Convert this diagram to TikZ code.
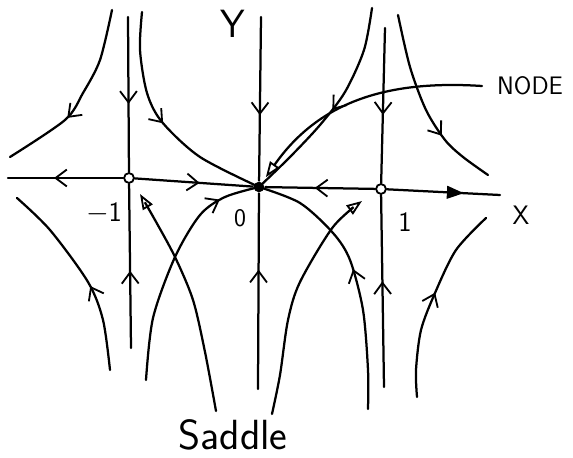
\documentclass[tikz,border=0pt]{standalone}
\usepackage{fontspec}
\usepackage{tikz}
\usetikzlibrary{arrows.meta,decorations.markings}

\begin{document}
\begin{tikzpicture}[x=0.025cm,y=-0.025cm,line width=1.6pt,line cap=round,
      font=\sffamily\fontsize{20}{22}\selectfont,
      fix/.style={circle,draw,minimum size=7pt,inner sep=0pt,line width=1.3pt},
      sink/.style={circle,fill,minimum size=7.5pt,inner sep=0pt},
      flow/.style={postaction={decorate},decoration={markings,
        mark=at position #1 with {\arrow{Straight Barb[length=8pt,width=12pt,line width=1.3pt]}}}},
      push/.style={postaction={decorate},decoration={markings,
        mark=at position #1 with {\arrow{Triangle[length=12pt,width=9pt]}}}},
      tip/.style={-{Triangle[open,length=11pt,width=8pt,line width=1.3pt]}}]
  \useasboundingbox (0,0) rectangle (573,458);
  \node[sink] (O) at (259,187) {};
  \node[fix] (sl) at (129,178) {};
  \node[fix] (sr) at (381,189) {};
  \coordinate (xl) at (8,178);
  \coordinate (xr) at (500,195);
  \node[font=\sffamily\fontsize{28}{30}\selectfont] (ylab) at (233,24) {Y};
  \node[font=\sffamily\fontsize{19}{21}\selectfont] (xlab) at (521,215) {X};
  \node (ml) at (104,213) {$-$1};
  \node[font=\sffamily\fontsize{18}{20}\selectfont] (zl) at (240,218) {0};
  \node (pl) at (405,222) {1};
  \node[anchor=west,inner xsep=10pt,font=\sffamily\fontsize{18}{20}\selectfont] (nd) at (482,86) {NODE};
  \node[font=\sffamily\fontsize{30}{32}\selectfont] (sd) at (233,435) {Saddle};
  % axes
  \draw[flow=0.6] (sl) -- (xl);
  \draw[flow=0.55] (sl) -- (O);
  \draw[flow=0.55] (sr) -- (O);
  \draw[push=0.68] (sr) -- (xr);
  \draw[flow=0.6] (261,17) -- (O);
  \draw[flow=0.61] (258,389) -- (O);
  \draw[flow=0.56] (128,17) -- (sl);
  \draw[flow=0.47] (131,348) -- (sl);
  \draw[flow=0.56] (385,28) -- (sr);
  \draw[flow=0.55] (384,387) -- (sr);
  % upper half
  \draw[flow=0.63] plot[smooth] coordinates {(112,10) (100,60) (83,93) (65,120) (10,157)};
  \draw[flow=0.5] plot[smooth] coordinates {(142,12) (140,50) (147,93) (162,122) (200,157) (O)};
  \draw[flow=0.51] plot[smooth] coordinates {(372,8) (364,50) (345,92) (320,125) (290,157) (O)};
  \draw[flow=0.68] plot[smooth] coordinates {(398,15) (410,67) (426,110) (445,140) (463,157) (488,175)};
  % lower half
  \draw[flow=0.43] plot[smooth] coordinates {(110,370) (103,320) (88,282) (50,230) (17,198)};
  \draw[tip] plot[smooth] coordinates {(216,411) (205,352) (193,300) (175,257) (155,220) (140,194)};
  \draw[flow=0.83] plot[smooth] coordinates {(146,380) (153,318) (175,257) (200,215) (225,197) (O)};
  \draw[flow=0.52] plot[smooth] coordinates {(368,409) (368,370) (363,310) (350,260) (333,233) (300,203) (O)};
  \draw[tip] plot[smooth] coordinates {(272,414) (280,375) (288,320) (300,282) (333,227) (362,201)};
  \draw[flow=0.54] plot[smooth] coordinates {(417,397) (416,370) (421,330) (435,293) (456,250) (486,218)};
  \draw[tip,shorten >=4pt] (nd.west) .. controls (390,80) and (320,100) .. (O);
\end{tikzpicture}
\end{document}
